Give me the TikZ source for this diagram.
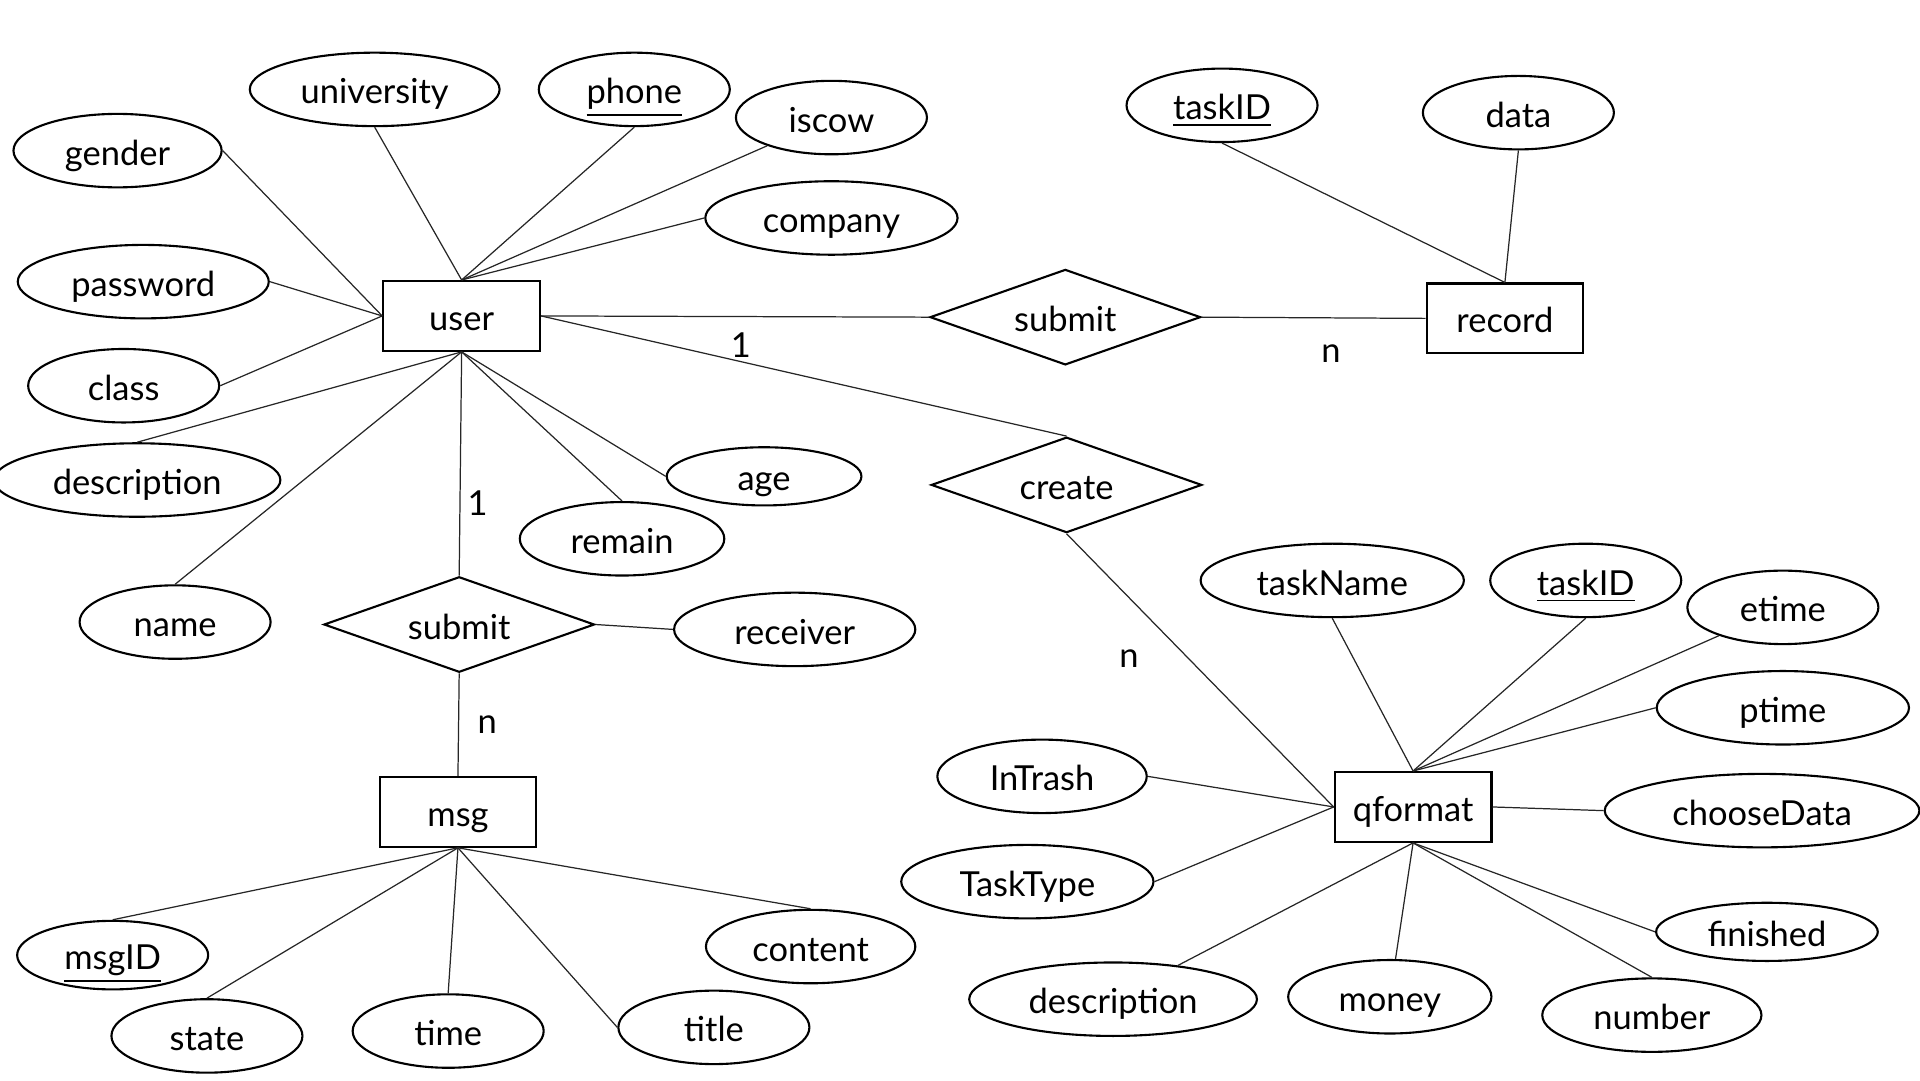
\documentclass[tikz,border=0pt]{standalone}
\usepackage{fontspec}
\setmainfont{Lato}
\usetikzlibrary{shapes.geometric}
\def\myu{0.012245cm}
\begin{document}
\begin{tikzpicture}[x=0.012245cm,y=-0.012245cm,
  font=\fontsize{9.8pt}{11pt}\selectfont,
  every node/.style={text height=1.0em, text depth=0.17em},
  attr/.style 2 args={ellipse, draw, line width=0.6pt, inner sep=0pt, minimum width={#1*\myu}, minimum height={#2*\myu}},
  ent/.style={rectangle, draw, line width=0.6pt, inner sep=0pt, minimum width={128*\myu}, minimum height={57*\myu}},
  rel/.style={diamond, draw, line width=0.6pt, inner sep=0pt, aspect=2.83, minimum width={221*\myu}, minimum height={78*\myu}},
  conn/.style={draw=black!85, line width=0.35pt},
  card/.style={inner sep=0pt}]
\useasboundingbox (0,0) rectangle (1568,882);
% entities
\node[ent] (user) at (377,258) {user};
\node[ent] (record) at (1229,260) {record};
\node[ent] (msg) at (374,663) {msg};
\node[ent] (qformat) at (1154,659) {qformat};
% relations
\node[rel] (submitA) at (870,259) {submit};
\node[rel] (create) at (871,396) {create};
\node[rel] (submitB) at (375,510) {submit};
% user attributes
\node[attr={204}{60}] (university) at (306,73) {university};
\node[attr={156}{60}] (phone) at (518,73) {\underline{phone}};
\node[attr={156}{60}] (iscow) at (679,96) {iscow};
\node[attr={170}{60}] (gender) at (96,123) {gender};
\node[attr={206}{60}] (company) at (679,178) {company};
\node[attr={205}{60}] (password) at (117,230) {password};
\node[attr={156}{60}] (class) at (101,315) {class};
\node[attr={234}{60}] (descA) at (112,392) {description};
\node[attr={159}{46}] (age) at (624,389) {age};
\node[attr={167}{60}] (remain) at (508,440) {remain};
\node[attr={156}{60}] (name) at (143,508) {name};
% submit B
\node[attr={197}{60}] (receiver) at (649,514) {receiver};
% msg attributes
\node[attr={156}{56}] (msgID) at (92,780) {\underline{msgID}};
\node[attr={156}{60}] (state) at (169,846) {state};
\node[attr={156}{60}] (time) at (366,842) {time};
\node[attr={156}{60}] (title) at (583,839) {title};
\node[attr={171}{60}] (content) at (662,773) {content};
% record attributes
\node[attr={156}{60}] (taskIDA) at (998,86) {\underline{taskID}};
\node[attr={156}{60}] (data) at (1240,92) {data};
% qformat attributes
\node[attr={215}{60}] (taskName) at (1088,474) {taskName};
\node[attr={156}{60}] (taskIDB) at (1295,474) {\underline{taskID}};
\node[attr={156}{60}] (etime) at (1456,496) {etime};
\node[attr={206}{60}] (ptime) at (1456,578) {ptime};
\node[attr={171}{60}] (InTrash) at (851,634) {InTrash};
\node[attr={257}{60}] (chooseData) at (1439,662) {chooseData};
\node[attr={206}{60}] (TaskType) at (839,720) {TaskType};
\node[attr={181}{47}] (finished) at (1443,761) {finished};
\node[attr={235}{60}] (descB) at (909,816) {description};
\node[attr={166}{60}] (money) at (1135,814) {money};
\node[attr={179}{60}] (number) at (1349,829) {number};
% cardinalities
\node[card] (c1) at (605,280) {1};
\node[card] (c2) at (1087,284) {n};
\node[card] (c3) at (390,409) {1};
\node[card] (c4) at (398,587) {n};
\node[card] (c5) at (922,533) {n};
% connectors: user
\draw[conn] (university.south) -- (user.north);
\draw[conn] (phone.south) -- (user.north);
\draw[conn] (iscow) -- (user.north);
\draw[conn] (company.west) -- (user.north);
\draw[conn] (gender.east) -- (user.west);
\draw[conn] (password.east) -- (user.west);
\draw[conn] (class.east) -- (user.west);
\draw[conn] (descA.north) -- (user.south);
\draw[conn] (name.north) -- (user.south);
\draw[conn] (age.west) -- (user.south);
\draw[conn] (remain.north) -- (user.south);
\draw[conn] (user.east) -- (submitA.west);
\draw[conn] (submitA.east) -- (record.west);
\draw[conn] (user.east) -- (create.north);
\draw[conn] (create.south) -- (qformat.west);
\draw[conn] (user.south) -- (submitB.north);
\draw[conn] (submitB.east) -- (receiver.west);
\draw[conn] (submitB.south) -- (msg.north);
% record
\draw[conn] (taskIDA.south) -- (record.north);
\draw[conn] (data.south) -- (record.north);
% msg
\draw[conn] (msg.south) -- (msgID.north);
\draw[conn] (msg.south) -- (state.north);
\draw[conn] (msg.south) -- (time.north);
\draw[conn] (msg.south) -- (title.west);
\draw[conn] (msg.south) -- (content.north);
% qformat
\draw[conn] (taskName.south) -- (qformat.north);
\draw[conn] (taskIDB.south) -- (qformat.north);
\draw[conn] (etime) -- (qformat.north);
\draw[conn] (ptime.west) -- (qformat.north);
\draw[conn] (InTrash.east) -- (qformat.west);
\draw[conn] (TaskType.east) -- (qformat.west);
\draw[conn] (chooseData.west) -- (qformat.east);
\draw[conn] (descB) -- (qformat.south);
\draw[conn] (money) -- (qformat.south);
\draw[conn] (finished.west) -- (qformat.south);
\draw[conn] (number.north) -- (qformat.south);
\end{tikzpicture}
\end{document}
